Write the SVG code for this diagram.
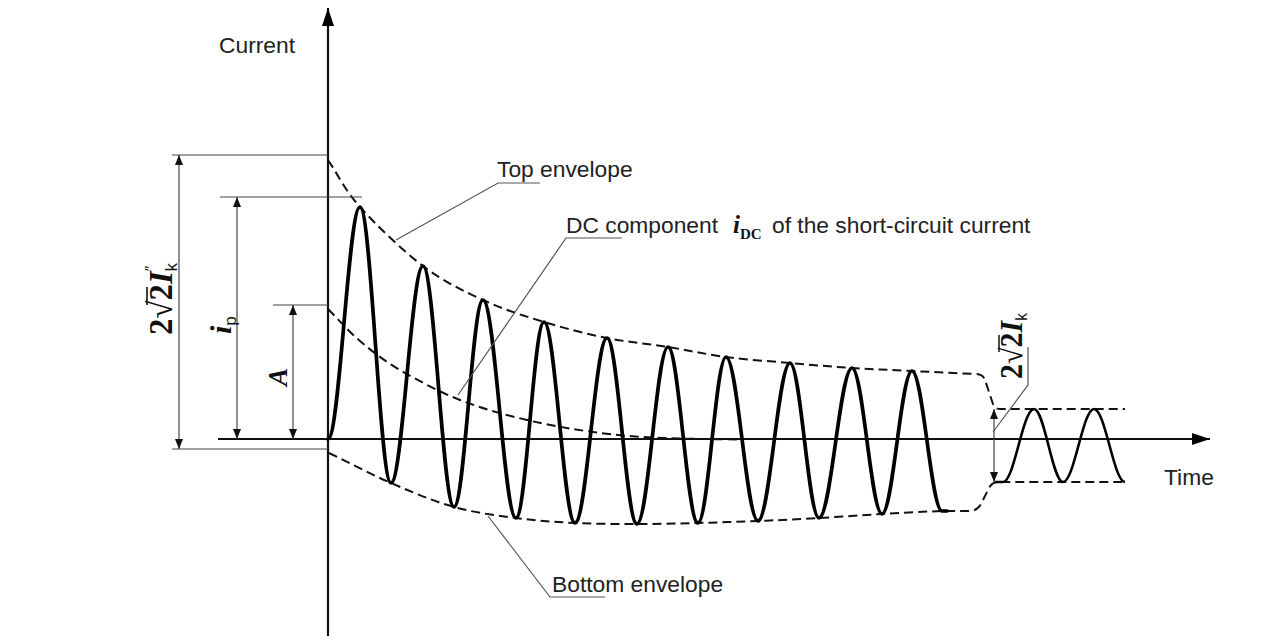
<svg xmlns="http://www.w3.org/2000/svg" width="1275" height="642" viewBox="0 0 1275 642">
<defs>
<style>
.axis{stroke:#111;stroke-width:2.2;fill:none}
.wave{stroke:#000;stroke-width:3.7;fill:none;stroke-linejoin:round;stroke-linecap:round}
.wave2{stroke:#000;stroke-width:2.6;fill:none}
.env{stroke:#111;stroke-width:2;fill:none;stroke-dasharray:9 5}
.ext{stroke:#444;stroke-width:1.2;fill:none}
.dim{stroke:#444;stroke-width:1.2;fill:none;marker-start:url(#ah);marker-end:url(#ah)}
.lead{stroke:#555;stroke-width:1.2;fill:none}
.lbl{font-family:"Liberation Sans",Arial,sans-serif;font-size:22.8px;fill:#222}
.math{font-family:"Liberation Serif","Times New Roman",serif;font-weight:bold;fill:#111}
.sub{font-family:"Liberation Sans",Arial,sans-serif;font-weight:normal;font-style:normal}
</style>
<marker id="ah" viewBox="0 0 10 8" refX="10" refY="4" markerWidth="10" markerHeight="8" markerUnits="userSpaceOnUse" orient="auto-start-reverse"><path d="M0,0L10,4L0,8z" fill="#111"/></marker>
<marker id="ax" viewBox="0 0 18 12" refX="18" refY="6" markerWidth="18" markerHeight="12" markerUnits="userSpaceOnUse" orient="auto"><path d="M0,0L18,6L0,12z" fill="#000"/></marker>
</defs>
<rect width="1275" height="642" fill="#fff"/>

<g id="axes">
<path class="axis" d="M328,636V8" marker-end="url(#ax)"/>
<path class="axis" d="M218,439H1210" marker-end="url(#ax)"/>
<text class="lbl" x="219" y="53">Current</text>
<text class="lbl" x="1164" y="485">Time</text>
</g>

<g id="envelopes">
<path id="top-envelope" class="env" d="M328,160 C338.7,175.7 344.2,189.3 360,207 C375.8,224.7 402.5,250.5 423,266 C443.5,281.5 462.8,290.7 483,300 C503.2,309.3 523.3,315.7 544,322 C564.7,328.3 586.3,333.8 607,338 C627.7,342.2 648.2,343.8 668,347 C687.8,350.2 705.7,354.3 726,357 C746.3,359.7 769,361.2 790,363 C811,364.8 831.7,366.7 852,368 C872.3,369.3 891.5,370 912,371 C932.5,372 954,373 975,374 Q983,374 985,380 L993,404 Q995,409 1000,409 L1125,409"/>
<path id="bottom-envelope" class="env" d="M329,453 C349.7,463 370.2,474 391,483 C411.8,492 433.2,501.2 454,507 C474.8,512.8 495.8,515.3 516,518 C536.2,520.7 554.8,522 575,523 C595.2,524 616.5,524 637,524 C657.5,524 677.8,523.5 698,523 C718.2,522.5 737.8,521.8 758,521 C778.2,520.2 798.3,519.2 819,518 C839.7,516.8 861.5,515.2 882,514 C902.5,512.8 927.3,511.5 942,511 C951.3,511 960.7,511 970,511 Q977,511 981,504 L989,488 Q992,482 998,482 L1127,482"/>
<path id="dc-component" class="env" d="M328,309 C338.7,319.7 348,330.8 360,341 C372,351.2 383.3,360.2 400,370 C416.7,379.8 438.8,391.7 460,400 C481.2,408.3 503.7,414.5 527,420 C550.3,425.5 577,430 600,433 C623,436 641.7,436.9 665,438 C688.3,439.1 715,439 740,439.5"/>
</g>

<g id="waveform">
<path class="wave" d="M328,439 C339.6,439 348.4,207 360,207 C371.3,207 379.7,483 391,483 C402.6,483 411.4,266 423,266 C434.3,266 442.7,507 454,507 C464.6,507 472.4,300 483,300 C495,300 504,518 516,518 C526.2,518 533.8,322 544,322 C555.3,322 563.7,523 575,523 C586.6,523 595.4,338 607,338 C617.9,338 626.1,524 637,524 C648.3,524 656.7,347 668,347 C678.9,347 687.1,523 698,523 C708.2,523 715.8,357 726,357 C737.6,357 746.4,521 758,521 C769.6,521 778.4,363 790,363 C800.6,363 808.4,518 819,518 C831,518 840,368 852,368 C862.9,368 871.1,514 882,514 C892.9,514 901.1,371 912,371 C922.9,371 931.1,511 942,511 L947,511"/>
<path class="wave2" d="M995,482 L1003,482 C1014.3,482 1022.7,409 1034,409 C1044.6,409 1052.4,482 1063,482 C1074.3,482 1082.7,409 1094,409 C1105.3,409 1113.7,482 1125,482"/>
</g>

<g id="dimensions">
<path class="ext" d="M172,155H328 M172,449H328 M220,197H362 M273,305H328"/>
<path class="dim" d="M179,155V449"/>
<path class="dim" d="M237,197V439"/>
<path class="dim" d="M293,305V439"/>
<path class="dim" d="M994,409V482"/>
</g>

<g id="label-peak-initial">
<g transform="translate(172,335) rotate(-90)">
<text class="math" x="0" y="0" font-size="34" textLength="72" lengthAdjust="spacingAndGlyphs">2√2<tspan font-style="italic">I</tspan><tspan class="sub" font-size="17" dy="5">k</tspan></text>
<line x1="30" y1="-25" x2="48" y2="-25" stroke="#111" stroke-width="1.6"/>
<text class="sub" x="64" y="-17" font-size="15" fill="#111">″</text>
</g>
</g>

<g id="label-ip">
<g transform="translate(231,334) rotate(-90)">
<text class="math" x="0" y="0" font-size="30" font-style="italic">i<tspan class="sub" font-size="17" dy="5">p</tspan></text>
</g>
</g>

<g id="label-A">
<g transform="translate(287,386) rotate(-90)">
<text class="math" x="0" y="0" font-size="27" font-style="italic">A</text>
</g>
</g>

<g id="label-steady">
<g transform="translate(1022,379) rotate(-90)">
<text class="math" x="0" y="0" font-size="31" textLength="66" lengthAdjust="spacingAndGlyphs">2√2<tspan font-style="italic">I</tspan><tspan class="sub" font-size="16" dy="5">k</tspan></text>
<line x1="27" y1="-23" x2="44" y2="-23" stroke="#111" stroke-width="1.5"/>
</g>
</g>

<g id="label-top">
<text class="lbl" x="497" y="177">Top envelope</text>
</g>
<g id="label-dc">
<text class="lbl" x="566" y="233">DC component</text>
<text class="math" x="733" y="233" font-size="25" font-style="italic">i<tspan font-style="normal" font-size="15" dy="6">DC</tspan></text>
<text class="lbl" x="772" y="233">of the short-circuit current</text>
</g>
<g id="label-bottom">
<text class="lbl" x="552" y="592">Bottom envelope</text>
</g>

<g id="connectors">
<path class="lead" d="M396,240 L498,183 L540,183"/>
<path class="lead" d="M458,395 L566,238 L622,238"/>
<path class="lead" d="M488,516 L550,597 L605,597"/>
<path class="lead" d="M993,432 L1028,385 L1028,347"/>
</g>
</svg>
